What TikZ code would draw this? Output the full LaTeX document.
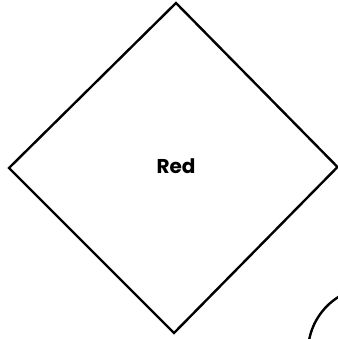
\documentclass[tikz,border=0pt]{standalone}
\usepackage{fontspec}
\newfontfamily\labelfont{Poppins}
\begin{document}
\begin{tikzpicture}[x=1pt,y=-1pt,
  outline/.style={line width=2.4pt,line join=miter,black},
  lbl/.style={font=\labelfont\bfseries\fontsize{20}{22}\selectfont,inner sep=0pt}]
\useasboundingbox (0,0) rectangle (337,339);
\coordinate (T) at (176,3);
\coordinate (L) at (9,168);
\coordinate (R) at (337.5,167);
\coordinate (B) at (174,333);
\draw[outline] (T) -- (R) -- (B) -- (L) -- cycle;
\node[lbl] (red) at (176,166) {Red};
\coordinate (C) at (373,352);
\draw[outline] (C) circle[radius=65];
\end{tikzpicture}
\end{document}
